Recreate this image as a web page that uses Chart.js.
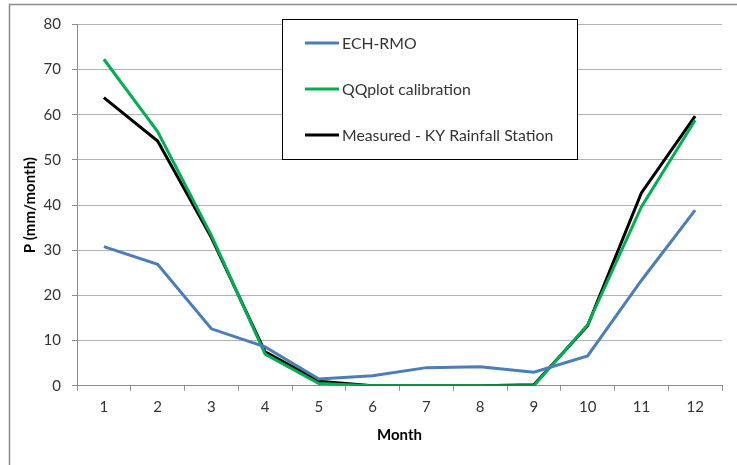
<!DOCTYPE html>
<html>
<head>
<meta charset="utf-8">
<script src="https://cdn.jsdelivr.net/npm/chart.js@4.4.1/dist/chart.umd.min.js"></script>
<style>
  html, body { margin: 0; padding: 0; background: #fff; }
  #wrap { width: 737px; height: 465px; position: relative; }
</style>
</head>
<body>
<div id="wrap"><canvas id="chart"></canvas></div>
<script>
// ===== DATA =====
const months = ["1", "2", "3", "4", "5", "6", "7", "8", "9", "10", "11", "12"];
const echRmo = [30.8, 26.9, 12.6, 8.6, 1.5, 2.2, 4.0, 4.2, 3.0, 6.6, 23.3, 38.9];
const qqplot = [72.3, 56.3, 33.3, 7.0, 0.5, 0, 0, 0, 0, 13.5, 39.6, 58.8];
const measured = [63.8, 54.2, 32.8, 7.5, 1.0, 0, 0, 0, 0.2, 13.3, 42.7, 59.7];
const yTicks = [0, 10, 20, 30, 40, 50, 60, 70, 80];

const FONT = "Lato, 'Open Sans', sans-serif";

// ===== FRAME + LEGEND =====
const framePlugin = {
    id: "frame",
    beforeDraw(chart) {
        const ctx = chart.ctx;
        ctx.save();
        ctx.strokeStyle = "#8c8c8c";
        ctx.lineWidth = 1.5;
        ctx.beginPath();
        ctx.moveTo(9.5, 470);
        ctx.lineTo(9.5, 4.5);
        ctx.lineTo(740, 4.5);
        ctx.stroke();
        ctx.restore();
    }
};

const boxLegend = {
    id: "boxLegend",
    afterDraw(chart) {
        const ctx = chart.ctx;
        ctx.save();
        ctx.fillStyle = "#fff";
        ctx.fillRect(282.5, 19.5, 295, 140);
        ctx.strokeStyle = "#000";
        ctx.lineWidth = 1;
        ctx.strokeRect(282.5, 19.5, 295, 140);
        ctx.font = "15.8px " + FONT;
        ctx.textBaseline = "middle";
        chart.data.datasets.forEach((ds, i) => {
            const y = 43 + i * 46;
            ctx.strokeStyle = ds.borderColor;
            ctx.lineWidth = 3;
            ctx.beginPath();
            ctx.moveTo(305, y);
            ctx.lineTo(339, y);
            ctx.stroke();
            ctx.fillStyle = "#333";
            ctx.fillText(ds.label, 342, y + 1);
        });
        ctx.restore();
    }
};

// ===== CHART =====
new Chart(document.getElementById("chart"), {
    type: "line",
    data: {
        labels: months,
        datasets: [
            { label: "ECH-RMO", data: echRmo, borderColor: "#4a7ebb" },
            { label: "QQplot calibration", data: qqplot, borderColor: "#00b050" },
            { label: "Measured - KY Rainfall Station", data: measured, borderColor: "#000000" }
        ].map(d => Object.assign(d, { borderWidth: 3, pointRadius: 0, tension: 0, fill: false }))
    },
    options: {
        responsive: true,
        maintainAspectRatio: false,
        animation: false,
        layout: { padding: { left: 12, right: 15, top: 24.5, bottom: 0 } },
        plugins: { legend: { display: false }, tooltip: { enabled: false } },
        scales: {
            x: {
                offset: true,
                grid: { offset: true, drawOnChartArea: false, drawTicks: true, tickLength: 5, color: "#8c8c8c" },
                border: { color: "#8c8c8c" },
                ticks: { color: "#333", font: { family: FONT, size: 15 }, padding: 7 },
                title: { display: true, text: "Month", color: "#000", font: { family: FONT, size: 15, weight: "bold" }, padding: { top: 0, bottom: 21 } },
                afterFit(s) { s.height = 465 - 385.7; }
            },
            y: {
                min: 0,
                max: 80,
                afterBuildTicks(s) { s.ticks = yTicks.map(v => ({ value: v })); },
                grid: { color: "#b3b3b3", tickLength: 5, tickColor: "#8c8c8c" },
                border: { color: "#8c8c8c" },
                ticks: { color: "#333", font: { family: FONT, size: 15 }, padding: 11 },
                title: { display: true, text: "P (mm/month)", color: "#000", font: { family: FONT, size: 15, weight: "bold" }, padding: { top: 9, bottom: 0 } },
                afterFit(s) { s.width = 77 - 12; }
            }
        }
    },
    plugins: [framePlugin, boxLegend]
});
</script>
</body>
</html>
